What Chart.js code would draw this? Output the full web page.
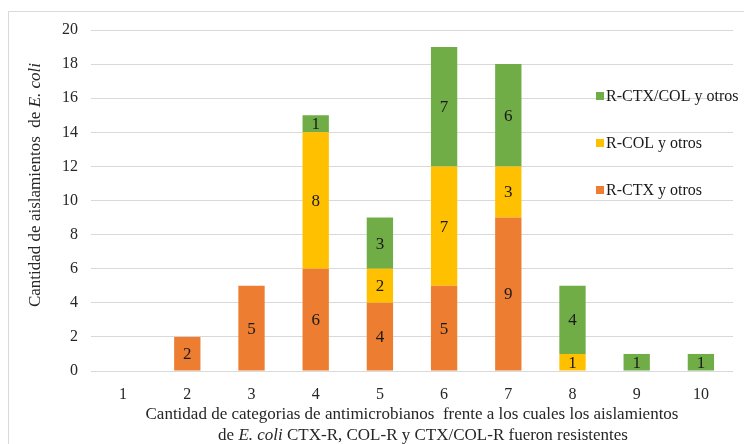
<!DOCTYPE html>
<html>
<head>
<meta charset="utf-8">
<script src="https://cdn.jsdelivr.net/npm/chart.js@4.4.1/dist/chart.umd.min.js"></script>
<style>
  html, body { margin: 0; padding: 0; background: #fff; }
  #wrap { width: 744px; height: 444px; position: relative; }
</style>
</head>
<body>
<div id="wrap"><canvas id="chart" width="744" height="444"></canvas></div>
<script>
const categories = ['1', '2', '3', '4', '5', '6', '7', '8', '9', '10'];
const ctxValues = [0, 2, 5, 6, 4, 5, 9, 0, 0, 0];
const colValues = [0, 0, 0, 8, 2, 7, 3, 1, 0, 0];
const ctxColValues = [0, 0, 0, 1, 3, 7, 6, 4, 1, 1];
const yTicks = [0, 2, 4, 6, 8, 10, 12, 14, 16, 18, 20];

const SERIF = '"Liberation Serif", "Times New Roman", serif';

// draws a line made of [text, italic] parts
const drawParts = (c, parts, x, y, size, align) => {
  let total = 0;
  parts.forEach(p => {
    c.font = (p[1] ? 'italic ' : '') + size + 'px ' + SERIF;
    total += c.measureText(p[0]).width;
  });
  let cx = align === 'center' ? x - total / 2 : x;
  c.textAlign = 'left';
  parts.forEach(p => {
    c.font = (p[1] ? 'italic ' : '') + size + 'px ' + SERIF;
    c.fillText(p[0], cx, y);
    cx += c.measureText(p[0]).width;
  });
};

const decorPlugin = {
  id: 'decor',
  beforeDraw(chart) {
    const c = chart.ctx;
    c.save();
    c.strokeStyle = '#d9d9d9';
    c.lineWidth = 1;
    c.strokeRect(8.5, 11.5, 800, 500);
    c.restore();
  },
  afterDatasetsDraw(chart) {
    const c = chart.ctx;
    c.save();
    c.fillStyle = '#1a1a1a';
    c.font = '17px ' + SERIF;
    c.textAlign = 'center';
    c.textBaseline = 'middle';
    chart.data.datasets.forEach((ds, i) => {
      const meta = chart.getDatasetMeta(i);
      meta.data.forEach((bar, j) => {
        const v = ds.data[j];
        if (!v) return;
        c.fillText(String(v), bar.x, (bar.y + bar.base) / 2 + 1);
      });
    });

    // legend (inside plot area, like the original)
    const items = [
      ['R-CTX/COL y otros', '#70ad47', 96],
      ['R-COL y otros', '#ffc000', 143],
      ['R-CTX y otros', '#ed7d31', 190]
    ];
    c.textAlign = 'left';
    c.font = '16px ' + SERIF;
    items.forEach(it => {
      c.fillStyle = it[1];
      c.fillRect(596, it[2] - 4, 8, 8);
      c.fillStyle = '#1a1a1a';
      c.fillText(it[0], 606, it[2] + 1);
    });

    // axis titles
    c.fillStyle = '#262626';
    drawParts(c, [['Cantidad de categorias de antimicrobianos  frente a los cuales los aislamientos', false]], 412, 415, 17, 'center');
    drawParts(c, [['de ', false], ['E. coli', true], [' CTX-R, COL-R y CTX/COL-R fueron resistentes', false]], 423, 436, 17, 'center');

    c.translate(36, 185);
    c.rotate(-Math.PI / 2);
    drawParts(c, [['Cantidad de aislamientos  de ', false], ['E. coli', true]], 0, 0, 17, 'center');
    c.restore();
  }
};

new Chart(document.getElementById('chart'), {
  type: 'bar',
  data: {
    labels: categories,
    datasets: [
      { label: 'R-CTX y otros', data: ctxValues, backgroundColor: '#ed7d31' },
      { label: 'R-COL y otros', data: colValues, backgroundColor: '#ffc000' },
      { label: 'R-CTX/COL y otros', data: ctxColValues, backgroundColor: '#70ad47' }
    ]
  },
  options: {
    responsive: false,
    animation: false,
    layout: { padding: { left: 0, right: 11, top: 30, bottom: 0 } },
    datasets: { bar: { barPercentage: 0.41, categoryPercentage: 1 } },
    plugins: { legend: { display: false }, tooltip: { enabled: false } },
    scales: {
      x: {
        stacked: true,
        grid: { display: false },
        border: { display: false },
        ticks: { color: '#262626', font: { family: SERIF, size: 16 }, padding: 6 },
        afterFit(scale) { scale.height = 73; }
      },
      y: {
        stacked: true,
        min: 0,
        max: 20,
        afterBuildTicks(scale) { scale.ticks = yTicks.map(v => ({ value: v })); },
        grid: { color: '#d9d9d9', drawTicks: false },
        border: { display: false },
        ticks: { color: '#262626', font: { family: SERIF, size: 16 }, padding: 13 },
        afterFit(scale) { scale.width = 91; }
      }
    }
  },
  plugins: [decorPlugin]
});
</script>
</body>
</html>
